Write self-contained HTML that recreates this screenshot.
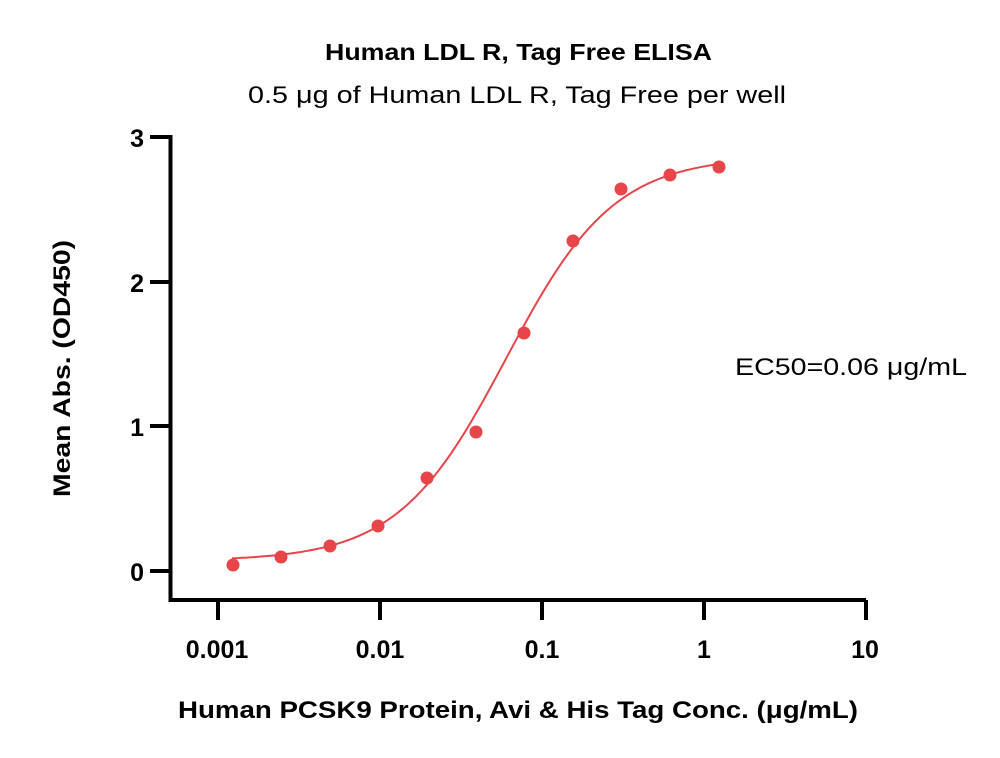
<!DOCTYPE html>
<html><head><style>
html,body{margin:0;padding:0;background:#fff;}
svg{display:block;font-family:"Liberation Sans","DejaVu Sans",sans-serif;}
</style></head><body>
<svg id="s" width="1000" height="758" viewBox="0 0 1000 758" xmlns="http://www.w3.org/2000/svg">
<text x="325" y="60" font-size="23" font-weight="bold" textLength="387" lengthAdjust="spacingAndGlyphs">Human LDL R, Tag Free ELISA</text>
<text x="248" y="103" font-size="24" textLength="538" lengthAdjust="spacingAndGlyphs">0.5 μg of Human LDL R, Tag Free per well</text>
<g stroke="#000" stroke-width="4" fill="none">
<path d="M170.5 135 V600 H866"/>
<path d="M150 137 H170 M150 282 H170 M150 426 H170 M150 571 H170"/>
<path d="M218 600 V620 M380 600 V620 M542 600 V620 M704 600 V620 M866 600 V620"/>
</g>
<g font-size="25" font-weight="bold" text-anchor="end">
<text x="144" y="147">3</text><text x="144" y="292">2</text><text x="144" y="436">1</text><text x="144" y="581">0</text>
</g>
<g font-size="25" font-weight="bold" text-anchor="middle">
<text x="217" y="658">0.001</text><text x="380" y="658">0.01</text><text x="542" y="658">0.1</text><text x="704" y="658">1</text><text x="865" y="658">10</text>
</g>
<text x="178" y="718" font-size="24" font-weight="bold" textLength="680" lengthAdjust="spacingAndGlyphs">Human PCSK9 Protein, Avi &amp; His Tag Conc. (μg/mL)</text>
<text transform="translate(70,497) rotate(-90)" font-size="24" font-weight="bold" textLength="257" lengthAdjust="spacingAndGlyphs">Mean Abs. (OD450)</text>
<text x="735" y="375" font-size="24" textLength="232" lengthAdjust="spacingAndGlyphs">EC50=0.06 μg/mL</text>
<path id="curve" fill="none" stroke="#e8454a" stroke-width="2"/>
<g id="pts" fill="#e8454a"></g>
</svg>
<script>
var X=function(c){return 218+162*(Math.log10(c)+3);};
var Y=function(v){return 571-144.5*v;};
var d="";
for(var i=0;i<=200;i++){var lc=Math.log10(0.00122)+i/200*(Math.log10(1.25)-Math.log10(0.00122));var c=Math.pow(10,lc);
var v=0.07+2.8/(1+Math.pow(0.06/c,1.3));d+=(i?"L":"M")+X(c).toFixed(1)+" "+Y(v).toFixed(1);}
document.getElementById("curve").setAttribute("d",d);
var px=[[233,565],[281,557],[330,546],[378,526],[427,478],[476,432],[524,333],[573,241],[621,189],[670,175],[719,167]];
var g=document.getElementById("pts"),h="";
px.forEach(function(p){h+='<circle cx="'+p[0]+'" cy="'+p[1]+'" r="6.5"/>';});
g.innerHTML=h;
</script>
</body></html>
